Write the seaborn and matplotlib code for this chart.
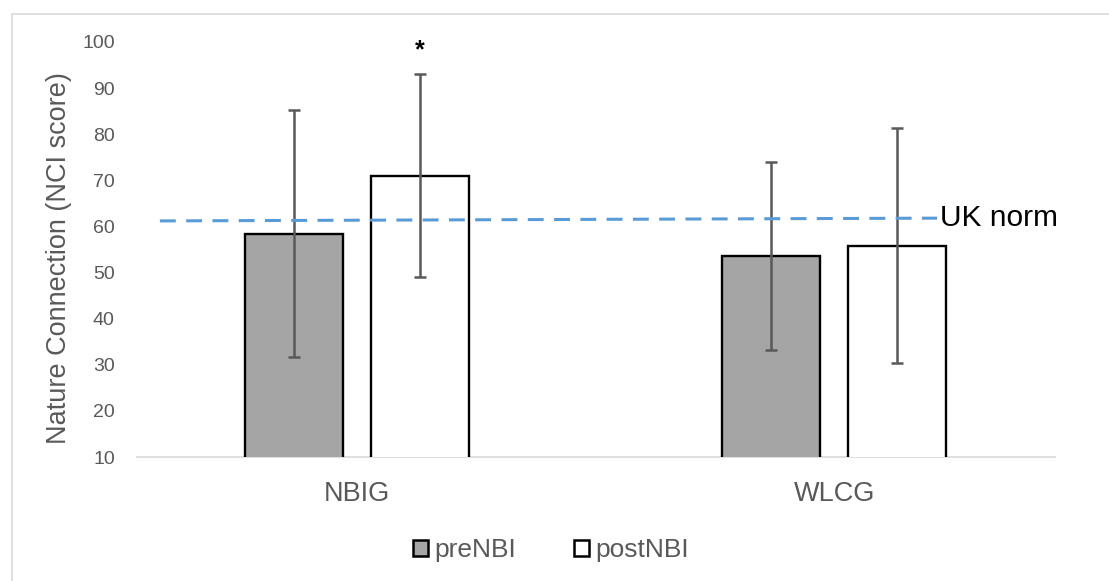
import numpy as np
import pandas as pd
import matplotlib
matplotlib.use("Agg")
import matplotlib.pyplot as plt
from matplotlib.patches import Patch, Rectangle
import seaborn as sns

# ---- data ----
groups = ["NBIG", "WLCG"]
phases = ["preNBI", "postNBI"]
pre_means = [58.4, 53.6]
post_means = [71.0, 55.8]
pre_sd = [26.8, 20.4]
post_sd = [22.0, 25.5]
uk_norm_x = [-0.413, 1.216]
uk_norm_y = [61.2, 61.8]
yticks = [10, 20, 30, 40, 50, 60, 70, 80, 90, 100]
signif_label = "*"
signif_y = 98.3

sns.set_theme(style="white")
plt.rcParams["font.family"] = ["Liberation Sans", "DejaVu Sans"]

df = pd.DataFrame({
    "group": groups * 2,
    "phase": [phases[0]] * 2 + [phases[1]] * 2,
    "mean": pre_means + post_means,
    "sd": pre_sd + post_sd,
})

W, H = 1109, 581
fig = plt.figure(figsize=(W / 100, H / 100), dpi=100)
ax = fig.add_axes([137 / W, 1 - 457 / H, (1055 - 137) / W, (457 - 42) / H])

colors = {"preNBI": "#a5a5a5", "postNBI": "#ffffff"}
sns.barplot(data=df, x="group", y="mean", hue="phase", hue_order=phases,
            palette=colors, edgecolor="black", linewidth=1.7,
            width=0.526, gap=0.22, errorbar=None, legend=False, ax=ax)

# error bars
for cont, ph in zip(ax.containers, phases):
    sub = df[df["phase"] == ph]
    xs = [b.get_x() + b.get_width() / 2 for b in cont]
    ax.errorbar(xs, sub["mean"].values, yerr=sub["sd"].values, fmt="none",
                ecolor="#595959", elinewidth=1.8, capsize=4, capthick=1.8,
                zorder=5)

# significance marker above NBIG post bar
post_cont = ax.containers[1]
b = post_cont[0]
ax.text(b.get_x() + b.get_width() / 2, signif_y, signif_label, ha="center",
        va="center", fontsize=18, fontweight="bold", color="black")

# UK norm dashed line
ax.plot(uk_norm_x, uk_norm_y, color="#5b9bd5", lw=2.2, dashes=(5.2, 3.4),
        zorder=6, solid_capstyle="butt", dash_capstyle="butt")
ax.text(uk_norm_x[1] + 0.005, uk_norm_y[1], "UK norm", ha="left", va="center",
        fontsize=21.5, color="black")

ax.set_xlim(-0.461, 1.463)
ax.set_ylim(10, 100)
ax.set_yticks(yticks)
ax.set_yticklabels([str(t) for t in yticks], fontsize=14, color="#595959")
ax.tick_params(axis="both", length=0)
ax.tick_params(axis="y", pad=16)
ax.tick_params(axis="x", pad=17, labelsize=19.5, labelcolor="#595959")
ax.set_xlabel("")
ax.set_ylabel("Nature Connection (NCI score)", fontsize=19.5, color="#595959")
ax.yaxis.label.set_verticalalignment("center")
ax.yaxis.set_label_coords(-0.085, 0.48)

for s in ["left", "right", "top"]:
    ax.spines[s].set_visible(False)
ax.spines["bottom"].set_color("#d9d9d9")
ax.spines["bottom"].set_linewidth(1.2)
ax.spines["bottom"].set_zorder(0)

# legend
handles = [Patch(facecolor=colors[p], edgecolor="black", linewidth=1.8) for p in phases]
fig.legend(handles, phases, loc="center", bbox_to_anchor=(551 / W, 1 - 550 / H),
           ncol=2, frameon=False, fontsize=19, labelcolor="#595959",
           handlelength=0.55, handleheight=0.55, handletextpad=0.25,
           columnspacing=2.2)

# outer chart border
fig.patches.append(Rectangle((12 / W, -0.05), 1.1, 1 - 14 / H + 0.05,
                             transform=fig.transFigure, fill=False,
                             edgecolor="#d9d9d9", linewidth=1.2))

fig.savefig("out.png", dpi=100)
